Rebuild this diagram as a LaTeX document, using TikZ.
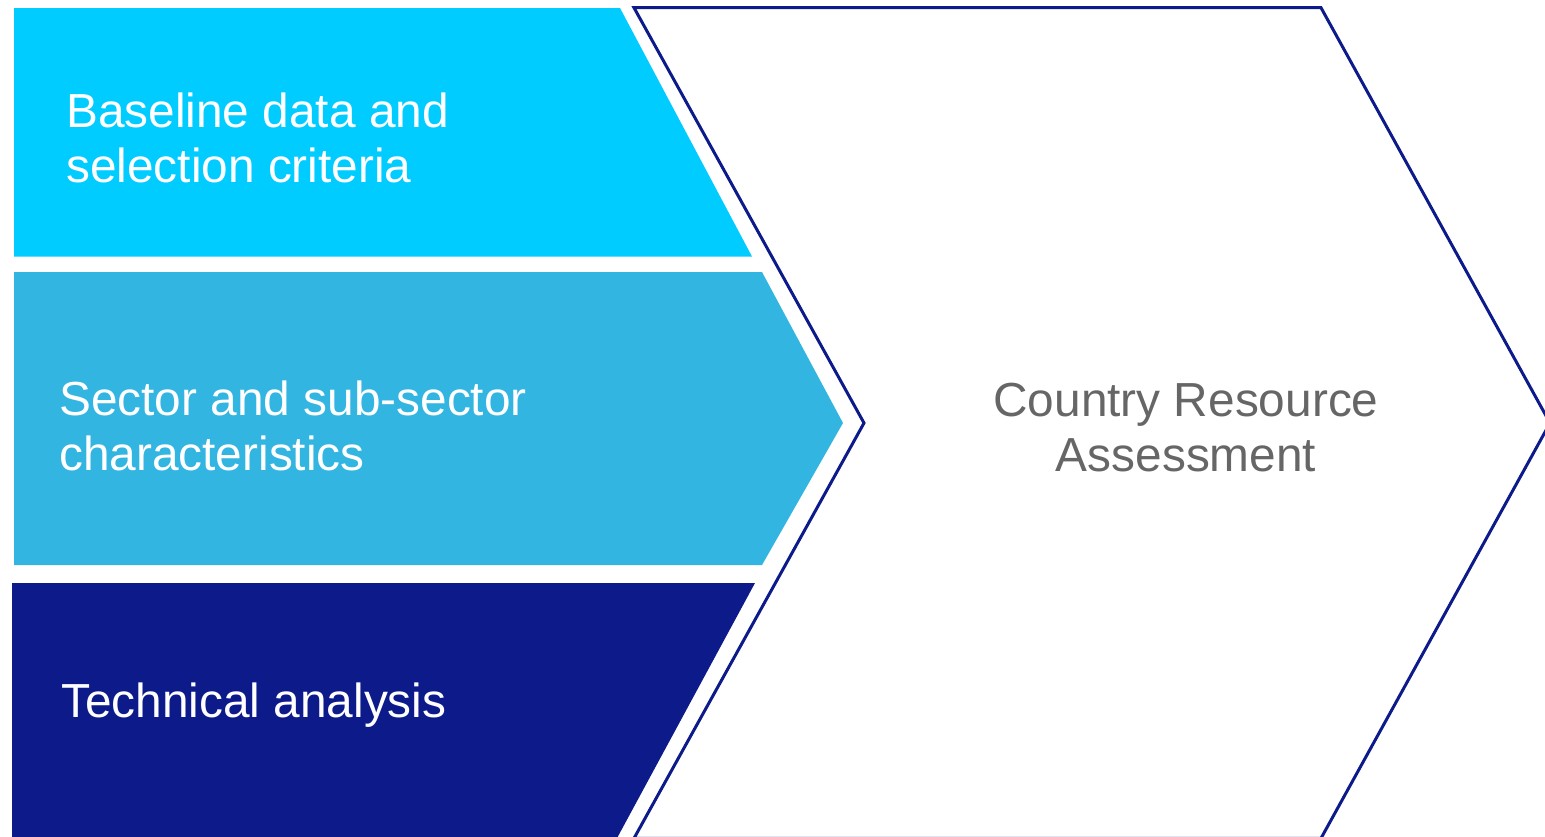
\documentclass[tikz,border=0pt]{standalone}
\usepackage{fontspec}
\setmainfont{Liberation Sans}
\definecolor{cyanband}{HTML}{00CCFF}
\definecolor{skyband}{HTML}{33B5E2}
\definecolor{navyband}{HTML}{0C1A8A}
\definecolor{labelgray}{HTML}{666666}
\begin{document}
\begin{tikzpicture}[x=1pt,y=-1pt,
  bandtext/.style={anchor=base west,inner sep=0pt,text=white,
    font=\fontsize{47.8}{55}\selectfont,align=left},
  outcome/.style={anchor=base,inner sep=0pt,text=labelgray,
    font=\fontsize{47.8}{55}\selectfont,align=center}]
\useasboundingbox (0,0) rectangle (1545,836);
\clip (0,0) rectangle (1545,836);
% three input bands
\fill[cyanband] (14,8) -- (620,8) -- (752,256.5) -- (14,256.5) -- cycle;
\fill[skyband] (14,272) -- (762,272) -- (843,423) -- (762,565) -- (14,565) -- cycle;
\fill[navyband] (12,583) -- (755,583) -- (616,840) -- (12,840) -- cycle;
% outlined chevron for the result
\draw[navyband,line width=3pt,line join=miter]
  (634,7.7) -- (1321,7.7) -- (1550,423) -- (1321,838.3) -- (634,838.3) -- (864,423) -- cycle;
% labels (a multi-line node sits on the baseline of its last line)
\node[bandtext] (baseline) at (66,182.5) {Baseline data and\\selection criteria};
\node[bandtext] (sector) at (59,470) {Sector and sub-sector\\characteristics};
\node[bandtext] (technical) at (61,717.7) {Technical analysis};
\node[outcome] (country) at (1186,471.7) {Country Resource\\Assessment};
\end{tikzpicture}
\end{document}
